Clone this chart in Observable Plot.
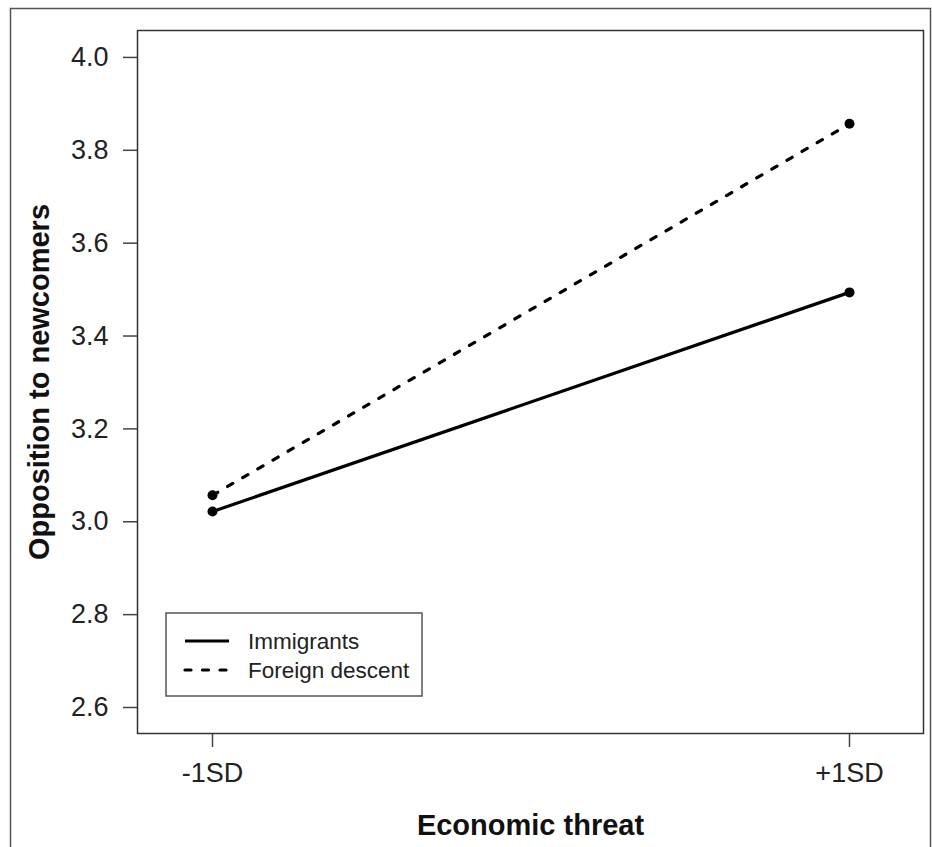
<!DOCTYPE html>
<html><head><meta charset="utf-8">
<script src="https://cdn.jsdelivr.net/npm/d3@7"></script>
<script src="https://cdn.jsdelivr.net/npm/@observablehq/plot@0.6"></script>
<style>
html,body{margin:0;padding:0;background:#fff;}
#chart{position:relative;width:932px;height:847px;overflow:hidden;}
</style></head><body><div id="chart"></div>
<script>
const xLabels = ["-1SD", "+1SD"];
const seriesNames = ["Immigrants", "Foreign descent"];
const immigrants = [3.022, 3.494];
const foreignDescent = [3.057, 3.857];
const yTicks = [2.6, 2.8, 3.0, 3.2, 3.4, 3.6, 3.8, 4.0];
const xTitle = "Economic threat";
const yTitle = "Opposition to newcomers";

const rows = (name, vals) => xLabels.map((x, i) => ({series: name, x, y: vals[i]}));
const imm = rows(seriesNames[0], immigrants);
const fd = rows(seriesNames[1], foreignDescent);

const font = '"Liberation Sans", Arial, Helvetica, sans-serif';
const dash = "6,11.5";

const plot = Plot.plot({
  width: 932, height: 847,
  marginLeft: 137, marginRight: 9, marginTop: 30, marginBottom: 114,
  style: {fontFamily: font, background: "white", color: "#222"},
  x: {type: "point", domain: xLabels, padding: 0.116},
  y: {domain: [2.544, 4.058]},
  marks: [
    Plot.axisY(yTicks, {tickSize: 14, tickPadding: 15, tickFormat: d => d.toFixed(1), fontSize: 27, stroke: "#444", strokeWidth: 1.5, fill: "#222", label: null}),
    Plot.axisX({tickSize: 14, tickPadding: 15, fontSize: 27, stroke: "#444", strokeWidth: 1.5, fill: "#222", label: null}),
    Plot.frame({stroke: "#333", strokeWidth: 1.5}),
    Plot.text([yTitle], {frameAnchor: "left", text: d => d, dx: -98, rotate: -90, textAnchor: "middle", lineAnchor: "middle", fontSize: 29, fontWeight: "bold", fill: "#111"}),
    Plot.text([xTitle], {frameAnchor: "bottom", text: d => d, dy: 92, textAnchor: "middle", lineAnchor: "middle", fontSize: 29, fontWeight: "bold", fill: "#111"}),
    Plot.line(imm, {x: "x", y: "y", stroke: "black", strokeWidth: 3.2}),
    Plot.line(fd, {x: "x", y: "y", stroke: "black", strokeWidth: 3.2, strokeDasharray: dash, strokeLinecap: "round"}),
    Plot.dot([...imm, ...fd], {x: "x", y: "y", r: 5, fill: "black", stroke: null})
  ]
});

const svg = d3.select(plot);
svg.append("path")
  .attr("d", "M10.5,860 V8.5 H930.5 V860")
  .attr("fill", "none").attr("stroke", "#555").attr("stroke-width", 1.5);

const lg = svg.append("g").attr("font-family", font).attr("text-anchor", "start");
lg.append("rect").attr("x", 166).attr("y", 613).attr("width", 256).attr("height", 83)
  .attr("fill", "white").attr("stroke", "#555").attr("stroke-width", 1.5);
seriesNames.forEach((name, i) => {
  const y = 641 + i * 29;
  lg.append("line").attr("x1", 185).attr("x2", 229).attr("y1", y).attr("y2", y)
    .attr("stroke", "black").attr("stroke-width", 3.2)
    .attr("stroke-dasharray", i === 0 ? null : dash)
    .attr("stroke-linecap", i === 0 ? "butt" : "round");
  lg.append("text").attr("x", 248).attr("y", y).attr("dy", "0.35em")
    .attr("text-anchor", "start")
    .attr("font-size", 22.5).attr("fill", "#222").text(name);
});

document.getElementById("chart").appendChild(plot);
</script></body></html>
